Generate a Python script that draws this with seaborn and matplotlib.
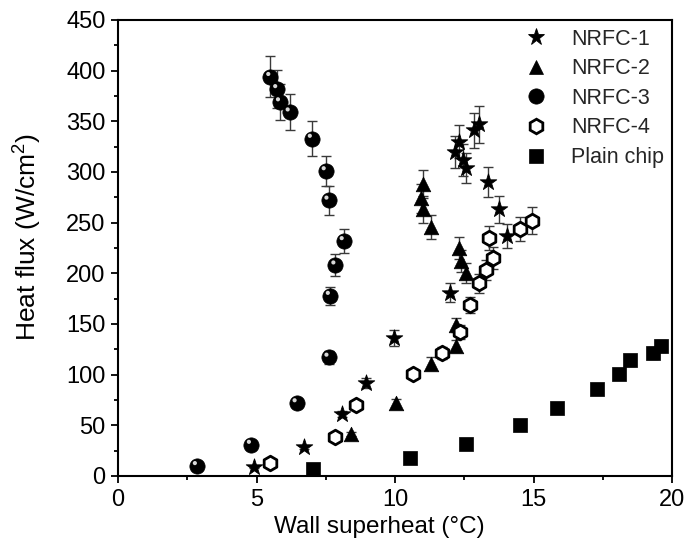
import numpy as np
import pandas as pd
import matplotlib
matplotlib.use("Agg")
import matplotlib.pyplot as plt
import matplotlib.transforms as mtransforms
from matplotlib.lines import Line2D
from matplotlib.ticker import MultipleLocator
import seaborn as sns

# ---------------- data ----------------
series_names = ["NRFC-1", "NRFC-2", "NRFC-3", "NRFC-4", "Plain chip"]

nrfc1_x = [4.9, 6.7, 8.1, 8.95, 9.95, 12.0, 12.15, 12.3, 12.45, 12.55, 12.85, 13.05, 13.35, 13.75, 14.05]
nrfc1_y = [9, 29, 61, 92, 136, 181, 320, 330, 312, 304, 341, 347, 290, 263, 237]
nrfc1_e = [1, 2, 3, 5, 8, 9, 16, 16, 16, 15, 17, 18, 15, 13, 12]

nrfc2_x = [8.4, 10.05, 11.3, 12.2, 12.2, 12.55, 12.4, 12.3, 11.3, 11.0, 10.95, 11.0]
nrfc2_y = [41, 72, 111, 128, 149, 200, 212, 225, 246, 263, 274, 288]
nrfc2_e = [2, 4, 6, 6, 7, 10, 11, 11, 12, 13, 14, 14]

nrfc3_x = [2.85, 4.8, 6.45, 7.6, 7.65, 7.85, 8.15, 7.6, 7.5, 7.0, 6.2, 5.85, 5.75, 5.5]
nrfc3_y = [10, 31, 72, 117, 178, 208, 232, 272, 301, 333, 359, 369, 382, 394]
nrfc3_e = [0.5, 1.5, 3.6, 6, 9, 11, 12, 14, 15, 17, 18, 18, 19, 20]

nrfc4_x = [5.5, 7.85, 8.6, 10.65, 11.7, 12.35, 12.7, 13.05, 13.3, 13.55, 13.4, 14.5, 14.95]
nrfc4_y = [13, 38, 70, 101, 121, 142, 169, 190, 203, 215, 235, 244, 252]
nrfc4_e = [1, 2, 3.5, 5, 6, 7, 8, 9, 10, 11, 12, 12, 13]

plain_x = [7.05, 10.55, 12.55, 14.5, 15.85, 17.3, 18.1, 18.5, 19.3, 19.6]
plain_y = [7, 18, 32, 50, 67, 86, 101, 114, 121, 128]
plain_e = [0.5, 1, 1.5, 2, 3, 4, 5, 5, 6, 6]

x_ticks = [0, 5, 10, 15, 20]
y_ticks = [0, 50, 100, 150, 200, 250, 300, 350, 400, 450]
x_label = "Wall superheat (\u00b0C)"
y_label = "Heat flux (W/cm$^{2}$)"

# ---------------- style ----------------
sns.set_theme(style="ticks")
plt.rcParams["font.family"] = ["Liberation Sans", "DejaVu Sans"]
plt.rcParams["mathtext.fontset"] = "custom"
plt.rcParams["mathtext.rm"] = "Liberation Sans"
plt.rcParams["mathtext.it"] = "Liberation Sans:italic"
plt.rcParams["mathtext.bf"] = "Liberation Sans:bold"

fig = plt.figure(figsize=(6.88, 5.54), dpi=100)
ax = fig.add_axes([118 / 688, 78 / 554, (672 - 118) / 688, (476 - 20) / 554])

frames = []
for name, xs, ys, es in [
    ("NRFC-1", nrfc1_x, nrfc1_y, nrfc1_e),
    ("NRFC-2", nrfc2_x, nrfc2_y, nrfc2_e),
    ("NRFC-3", nrfc3_x, nrfc3_y, nrfc3_e),
    ("NRFC-4", nrfc4_x, nrfc4_y, nrfc4_e),
    ("Plain chip", plain_x, plain_y, plain_e),
]:
    frames.append(pd.DataFrame({"series": name, "x": xs, "y": ys, "err": es}))
df = pd.concat(frames, ignore_index=True)

styles = {
    "NRFC-1": dict(marker="*", ms=12.5, fc="black", ec="black", lw=0.6),
    "NRFC-2": dict(marker="^", ms=10.5, fc="black", ec="black", lw=0.5),
    "NRFC-3": dict(marker="o", ms=11.0, fc="black", ec="black", lw=0.5),
    "NRFC-4": dict(marker="h", ms=10.5, fc="white", ec="black", lw=2.0),
    "Plain chip": dict(marker="s", ms=9.5, fc="black", ec="black", lw=0.5),
}

# error bars
for name in series_names:
    d = df[df.series == name]
    ax.errorbar(d.x, d.y, yerr=d.err, fmt="none", ecolor="#3a3a3a",
                elinewidth=1.0, capsize=3.6, capthick=1.0, zorder=2)

# markers
for name in series_names:
    d = df[df.series == name]
    st = styles[name]
    sns.scatterplot(data=d, x="x", y="y", ax=ax, marker=st["marker"],
                    s=st["ms"] ** 2, color=st["fc"], edgecolor=st["ec"],
                    linewidth=st["lw"], legend=False, zorder=3)

# highlight on the spheres
d3 = df[df.series == "NRFC-3"]
hl = mtransforms.offset_copy(ax.transData, fig=fig, x=-1.5, y=2.0, units="points")
ax.scatter(d3.x, d3.y, s=9, color="#d8d8d8", edgecolor="none", transform=hl, zorder=4)

# axes
ax.set_xlim(0, 20)
ax.set_ylim(0, 450)
ax.set_xticks(x_ticks)
ax.set_yticks(y_ticks)
ax.xaxis.set_minor_locator(MultipleLocator(2.5))
ax.yaxis.set_minor_locator(MultipleLocator(25))
ax.tick_params(axis="both", which="major", direction="out", length=5, width=1.3,
               labelsize=17, color="black", labelcolor="black", pad=4)
ax.tick_params(axis="both", which="minor", direction="out", length=3, width=1.3, color="black")
ax.tick_params(top=False, right=False, which="both")
for sp in ax.spines.values():
    sp.set_visible(True)
    sp.set_linewidth(1.5)
    sp.set_color("black")

ax.set_xlabel(x_label, fontsize=17.5, color="black")
ax.set_ylabel(y_label, fontsize=19, color="black")
ax.xaxis.set_label_coords(0.471, -0.088)
ax.yaxis.set_label_coords(-0.134, 0.524)

# legend
handles = []
for name in series_names:
    st = styles[name]
    handles.append(Line2D([], [], linestyle="none", marker=st["marker"],
                          markersize=st["ms"], markerfacecolor=st["fc"],
                          markeredgecolor=st["ec"], markeredgewidth=st["lw"]))
leg = ax.legend(handles, series_names, loc="upper left", bbox_to_anchor=(0.7195, 1.0),
                frameon=False, fontsize=15.5, handlelength=1.0, handletextpad=1.13,
                labelspacing=0.4, borderaxespad=0.0)

fig.savefig("out.png", dpi=100)
